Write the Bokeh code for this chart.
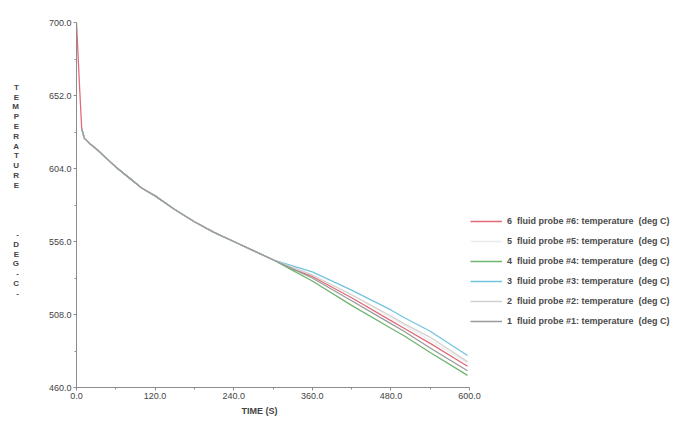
from bokeh.plotting import figure
from bokeh.models import (FixedTicker, PrintfTickFormatter, Legend, LegendItem,
                          Range1d, Title)
from bokeh.embed import file_html
from bokeh.resources import INLINE

# ---------------- data ----------------
t_red = [0, 2, 5, 8, 12, 20, 30, 45, 60, 80, 100, 120, 150, 180, 210, 240, 270, 300,
         330, 360, 420, 480, 500, 540, 597]
t_rest = [8, 12, 20, 30, 45, 60, 80, 100, 120, 150, 180, 210, 240, 270, 300,
          330, 360, 420, 480, 500, 540, 597]

common_head = [630, 624, 620.5, 617, 611, 605, 598, 591, 586, 577, 569, 562, 556, 550, 544]

probe6 = [700, 682, 655] + common_head + [538, 533, 519, 504, 499, 489, 474]
probe5 = common_head + [539, 534, 521, 506, 501, 491, 476]
probe4 = common_head + [537, 530, 514, 499, 494, 483, 468]
probe3 = common_head + [540, 536, 524, 511, 506, 497, 481]
probe2 = common_head + [539, 534, 521, 507, 502, 493, 477]
probe1 = common_head + [538, 532, 517, 502, 497, 486, 471]

series_names = ["6  fluid probe #6: temperature  (deg C)",
                "5  fluid probe #5: temperature  (deg C)",
                "4  fluid probe #4: temperature  (deg C)",
                "3  fluid probe #3: temperature  (deg C)",
                "2  fluid probe #2: temperature  (deg C)",
                "1  fluid probe #1: temperature  (deg C)"]
series_colors = ["#e26a78", "#ececec", "#6fb46f", "#72c4de", "#d2d2d2", "#9a9a9a"]
series_x = [t_red, t_rest, t_rest, t_rest, t_rest, t_rest]
series_y = [probe6, probe5, probe4, probe3, probe2, probe1]

x_ticks = [0, 120, 240, 360, 480, 600]
x_minor = [60, 180, 300, 420, 540]
y_ticks = [460, 508, 556, 604, 652, 700]
y_minor = [484, 532, 580, 628, 676]

x_title = "TIME  (S)"
y_title_lines = list("TEMPERATURE") + [" "] * 4 + list("-DEG-C-") + [" "] * 3

# ---------------- layout ----------------
W, H = 672, 420
LEFT, TOP, BOTTOM = 76, 22, 33
AXIS_PX = 393                      # pixel length of the 0..600 time axis
frame_w = W - LEFT
x_end = 600 * frame_w / AXIS_PX    # frame extends right to hold the legend

p = figure(width=W, height=H, output_backend="svg", toolbar_location=None,
           x_range=Range1d(0, x_end), y_range=Range1d(460, 700),
           min_border_left=LEFT, min_border_right=0, min_border_top=TOP,
           min_border_bottom=BOTTOM)
p.outline_line_color = None
p.xgrid.visible = False
p.ygrid.visible = False
p.background_fill_color = "white"
p.border_fill_color = "white"

renderers = []
for xs, ys, c in zip(series_x, series_y, series_colors):
    renderers.append(p.line(xs, ys, line_color=c, line_width=1.3))

items = [LegendItem(label=n, renderers=[r], index=0)
         for n, r in zip(series_names, renderers)]
legend = Legend(items=items, location=(AXIS_PX + 1, 56), orientation="vertical",
                padding=0, margin=0, spacing=0, glyph_width=32, glyph_height=20,
                label_height=20, label_standoff=5,
                label_text_font="Liberation Sans", label_text_font_size="9px",
                label_text_font_style="bold", label_text_color="#4a4a4a",
                background_fill_alpha=0, border_line_color=None)
p.add_layout(legend, "center")

for ax in (p.xaxis[0], p.yaxis[0]):
    ax.axis_line_color = "#8c8c8c"
    ax.major_tick_line_color = "#8c8c8c"
    ax.minor_tick_line_color = "#8c8c8c"
    ax.major_tick_out = 3
    ax.major_tick_in = 0
    ax.minor_tick_out = 2
    ax.minor_tick_in = 0
    ax.major_label_text_font = "Liberation Sans"
    ax.major_label_text_font_size = "9px"
    ax.major_label_text_color = "#444444"
    ax.formatter = PrintfTickFormatter(format="%.1f")

p.xaxis[0].bounds = (0, 600)
p.xaxis[0].ticker = FixedTicker(ticks=x_ticks, minor_ticks=x_minor)
p.yaxis[0].ticker = FixedTicker(ticks=y_ticks, minor_ticks=y_minor)
p.xaxis[0].major_label_standoff = 2
p.yaxis[0].major_label_standoff = 2

# x-axis title placed under the 0..600 axis (frame is wider because of the legend)
p.add_layout(Title(text=x_title, align="left", offset=165, standoff=4,
                   text_font="Liberation Sans", text_font_size="9px",
                   text_font_style="bold", text_color="#444444"), "below")

# vertical stacked y-axis title
yax = p.yaxis[0]
yax.axis_label_orientation = "horizontal"
yax.axis_label = "\n".join(y_title_lines)
yax.axis_label_text_font = "Liberation Sans"
yax.axis_label_text_font_size = "8px"
yax.axis_label_text_font_style = "bold"
yax.axis_label_text_color = "#444444"
yax.axis_label_text_line_height = 1.09
yax.axis_label_standoff = 27

open("out.html", "w").write(file_html(p, INLINE))
